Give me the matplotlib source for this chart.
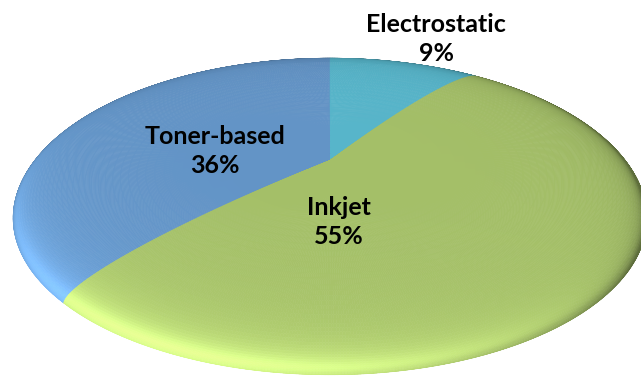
import numpy as np
import matplotlib
matplotlib.use("Agg")
import matplotlib.pyplot as plt
from matplotlib.collections import PolyCollection
from matplotlib.colors import to_rgb

# printer technology shares
labels = ["Electrostatic", "Inkjet", "Toner-based"]
shares = [9, 55, 36]
colors = ["#57b5ca", "#a4bf68", "#6394c6"]
label_pos = [(436, 39), (339, 222), (215, 151)]

# camera / dome settings
phi = np.radians(29.3)
D = 5.98
f = 1875.0
u0, v0 = 330.0, 196.5
h = 0.1305
light = np.array([-0.5, -0.9, 0.6])
light = light / np.linalg.norm(light)
amb = 0.4


def project(x, y, z):
    d = D + y * np.cos(phi) - z * np.sin(phi)
    s = y * np.sin(phi) + z * np.cos(phi)
    return u0 + f * x / d, v0 - f * s / d, d


def dome(r):
    return h * np.sqrt(np.clip(1 - r**2, 0, None))


fig = plt.figure(figsize=(6.41, 3.81), dpi=100)
ax = fig.add_axes([0, 0, 1, 1])
ax.set_xlim(0, 641)
ax.set_ylim(381, 0)
ax.axis("off")

fracs = np.array(shares, dtype=float) / sum(shares)
edges = np.radians(90 - 360 * np.concatenate([[0], np.cumsum(fracs)]))

t = np.linspace(0, 1, 50)
rr = (1 - (1 - t)**2.2) * 0.9995

polys = []
cols = []
depth = []
flat = amb + (1 - amb) * light[2]

for k in range(len(shares)):
    a0, a1 = edges[k], edges[k + 1]
    n = max(4, int(abs(np.degrees(a1 - a0)) / 0.5))
    th = np.linspace(a0, a1, n)
    R, T = np.meshgrid(rr, th, indexing="ij")
    X = R * np.cos(T)
    Y = R * np.sin(T)
    Z = dome(R)
    U, V, Dd = project(X, Y, Z)
    base = np.array(to_rgb(colors[k]))
    for i in range(len(rr) - 1):
        for j in range(len(th) - 1):
            quad = [(U[i, j], V[i, j]), (U[i + 1, j], V[i + 1, j]),
                    (U[i + 1, j + 1], V[i + 1, j + 1]), (U[i, j + 1], V[i, j + 1])]
            rc = 0.5 * (rr[i] + rr[i + 1])
            tc = 0.5 * (th[j] + th[j + 1])
            slope = h * rc / np.sqrt(max(1 - rc**2, 1e-6))
            # keep the shading on the rounded rim, top stays nearly flat
            slope = 2.0 * slope**2
            nrm = np.array([slope * np.cos(tc), slope * np.sin(tc), 1.0])
            nrm = nrm / np.linalg.norm(nrm)
            lit = amb + (1 - amb) * max(nrm @ light, 0)
            c = np.clip(base * lit / flat, 0, 1)
            polys.append(quad)
            cols.append(c)
            depth.append(Dd[i:i + 2, j:j + 2].mean())

order = np.argsort(depth)[::-1]
polys = [polys[i] for i in order]
cols = [cols[i] for i in order]
pc = PolyCollection(polys, facecolors=cols, edgecolors=cols, linewidths=0.4)
ax.add_collection(pc)

for lab, val, (x, y) in zip(labels, shares, label_pos):
    ax.text(x, y, f"{lab}\n{val}%", ha="center", va="center",
            fontsize=18, fontweight="bold", family="Lato",
            linespacing=1.35, color="black")

fig.savefig("out.png", dpi=100)
